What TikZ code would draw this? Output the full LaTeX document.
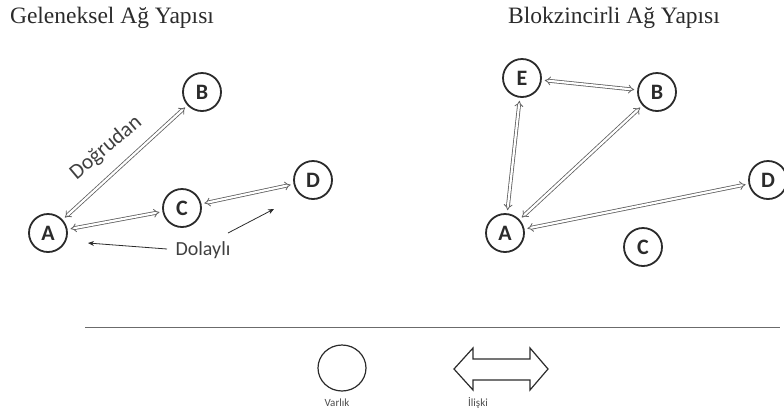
\documentclass[tikz,border=0pt]{standalone}
\usepackage{fontspec}
\setmainfont{Liberation Serif}
\newfontfamily\lblfont{Carlito}
\usetikzlibrary{arrows.meta,shapes.geometric}
\definecolor{ink}{HTML}{2B2B2B}
\definecolor{arr}{HTML}{606060}
\tikzset{
  ent/.style={circle, draw=ink, line width=1.8pt, minimum size=38pt, inner sep=0pt,
    font=\lblfont\fontsize{22}{22}\selectfont\bfseries, text=ink},
  rel/.style={draw=arr, line width=0.8pt, double=white, double distance=2.2pt,
    {Implies}-{Implies}, shorten >=3pt, shorten <=3pt},
  ttl/.style={font=\fontsize{23.5}{23.5}\selectfont, text=ink},
  lbl/.style={font=\lblfont\fontsize{20}{20}\selectfont, text=ink!90},
  ptr/.style={draw=ink, line width=0.8pt, -{Stealth[length=6pt,width=5pt]}},
  leg/.style={font=\lblfont\fontsize{11}{11}\selectfont, text=ink!85}
}
\begin{document}
\begin{tikzpicture}[x=1pt,y=-1pt]
\useasboundingbox (0,0) rectangle (784,416);
% titles
\node[ttl] (t1) at (112,18) {Geleneksel Ağ Yapısı};
\node[ttl] (t2) at (614,18) {Blokzincirli Ağ Yapısı};
% left network
\node[ent] (lA) at (48,233) {A};
\node[ent] (lB) at (202,92) {B};
\node[ent] (lC) at (182,208) {C};
\node[ent] (lD) at (313,180) {D};
\draw[rel] (lA) -- (lB);
\draw[rel] (lA) -- (lC);
\draw[rel] (lC) -- (lD);
\node[lbl, rotate=40, font=\lblfont\fontsize{21.5}{21.5}\selectfont] (dir) at (106,148) {Doğrudan};
\node[lbl] (ind) at (203,250) {Dolaylı};
\coordinate (pA) at (88,243);
\coordinate (pD) at (274,209);
\coordinate (qA) at (167,249);
\coordinate (qD) at (228,233);
\draw[ptr] (qA) -- (pA);
\draw[ptr] (qD) -- (pD);
% right network
\node[ent] (rE) at (522,78) {E};
\node[ent] (rB) at (657,92) {B};
\node[ent] (rD) at (768,180) {D};
\node[ent] (rA) at (505,233) {A};
\node[ent] (rC) at (643,247) {C};
\draw[rel] (rE) -- (rB);
\draw[rel] (rE) -- (rA);
\draw[rel] (rA) -- (rB);
\draw[rel] (rA) -- (rD);
% separator
\coordinate (s1) at (85,327);
\coordinate (s2) at (780,327);
\draw[draw=ink!70, line width=0.9pt] (s1) -- (s2);
% legend
\node[draw=ink, line width=1.2pt, ellipse, minimum width=48pt, minimum height=46pt, inner sep=0pt] (lv) at (342,368) {};
\node[leg] (tv) at (337,403) {Varlık};
\draw[draw=ink, line width=1.2pt, line join=miter]
  (454,369) -- (473,348) -- (473,359) -- (530,359) -- (530,348) -- (548,369)
  -- (530,390) -- (530,380) -- (473,380) -- (473,390) -- cycle;
\node[leg] (ti) at (478,403) {İlişki};
\end{tikzpicture}
\end{document}
